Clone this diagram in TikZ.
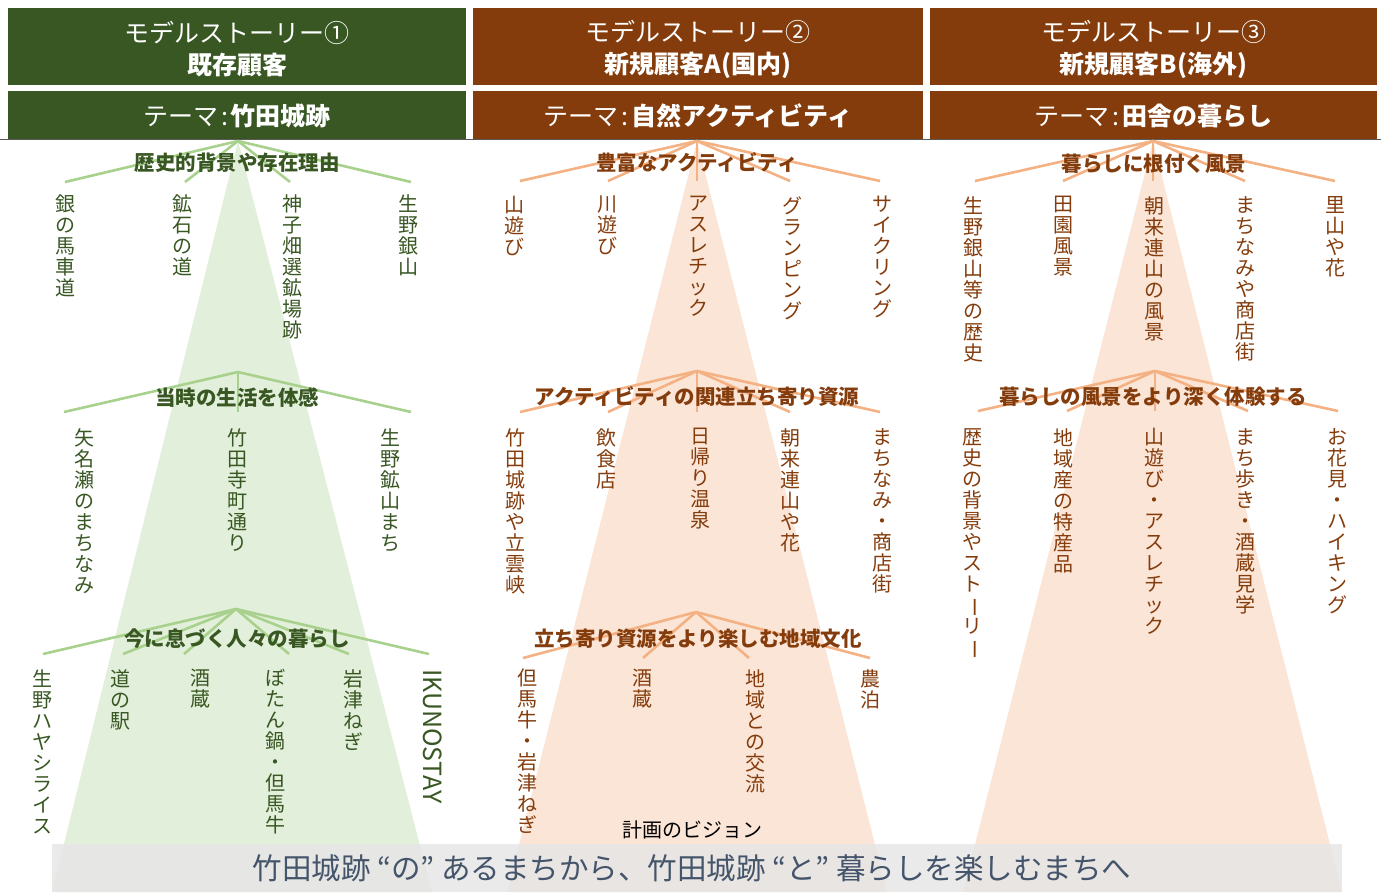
\documentclass[tikz,border=0pt]{standalone}
\usepackage{fontspec}
\setmainfont{Noto Sans CJK JP}
\usepackage{graphicx}
\definecolor{hdrG}{HTML}{385723}
\definecolor{hdrB}{HTML}{843C0C}
\definecolor{txtG}{HTML}{385723}
\definecolor{txtB}{HTML}{843C0C}
\definecolor{lnG}{HTML}{A9D18E}
\definecolor{lnB}{HTML}{F4B183}
\definecolor{fillG}{HTML}{E2EFDA}
\definecolor{fillB}{HTML}{FBE5D6}
\definecolor{bannerC}{HTML}{E7E6E6}
\definecolor{bannerT}{HTML}{44546A}
\newcommand\VB{\rotatebox[origin=c]{-90}{ー}}
\ExplSyntaxOn
\seq_new:N \l_vt_seq
\NewDocumentCommand\vtext{m}{
  \seq_clear:N \l_vt_seq
  \tl_map_inline:nn {#1} { \seq_put_right:Nn \l_vt_seq {##1} }
  \seq_use:Nn \l_vt_seq {\\}
}
\ExplSyntaxOff
\tikzset{
  hdrbox/.style={inner sep=0},
  hdrtext/.style={text=white, inner sep=0, align=center, font=\fontsize{25}{32}\selectfont},
  lineG/.style={draw=lnG, line width=2.6pt},
  lineB/.style={draw=lnB, line width=2.6pt},
  labG/.style={text=txtG, font=\bfseries\fontsize{20.5}{22}\selectfont, inner sep=0},
  labB/.style={text=txtB, font=\bfseries\fontsize{20.5}{22}\selectfont, inner sep=0},
  leafG/.style={text=txtG, font=\fontsize{20}{21}\selectfont, align=center, inner sep=0, anchor=north},
  leafB/.style={text=txtB, font=\fontsize{20}{21}\selectfont, align=center, inner sep=0, anchor=north},
}
\begin{document}
\begin{tikzpicture}[x=1pt,y=-1pt]
\useasboundingbox (0,0) rectangle (1384,892);
% fan shapes
\fill[fillG] (238,141) -- (52,892) -- (432,892) -- cycle;
\fill[fillB] (697,141) -- (507,892) -- (887,892) -- cycle;
\fill[fillB] (1153,141) -- (963,892) -- (1342,892) -- cycle;
% headers
\node[hdrbox, fill=hdrG, minimum width=458pt, minimum height=76.5pt] (h1) at (237,46.25) {};
\node[hdrbox, fill=hdrB, minimum width=450pt, minimum height=76.5pt] (h2) at (698,46.25) {};
\node[hdrbox, fill=hdrB, minimum width=447pt, minimum height=76.5pt] (h3) at (1153.5,46.25) {};
\node[hdrtext] (h1t) at (237,49.5) {モデルストーリー①\\\textbf{既存顧客}};
\node[hdrtext] (h2t) at (698,49.5) {モデルストーリー②\\\textbf{新規顧客A(国内)}};
\node[hdrtext] (h3t) at (1153.5,49.5) {モデルストーリー③\\\textbf{新規顧客B(海外)}};
\node[hdrbox, fill=hdrG, minimum width=458pt, minimum height=48pt] (t1) at (237,115) {};
\node[hdrbox, fill=hdrB, minimum width=450pt, minimum height=48pt] (t2) at (698,115) {};
\node[hdrbox, fill=hdrB, minimum width=447pt, minimum height=48pt] (t3) at (1153.5,115) {};
\node[hdrtext] (t1t) at (237,116) {テーマ\kern3pt:\kern3pt\textbf{竹田城跡}};
\node[hdrtext] (t2t) at (698,116) {テーマ\kern3pt:\kern3pt\textbf{自然アクティビティ}};
\node[hdrtext] (t3t) at (1153.5,116) {テーマ\kern3pt:\kern3pt\textbf{田舎の暮らし}};
\coordinate (rl) at (0,139.5);
\coordinate (rr) at (1381,139.5);
\draw[color=black!65, line width=1pt] (rl) -- (rr);
% ---------- column 1 ----------
\coordinate (g1) at (238,141);
\foreach \x [count=\i] in {65,185,290,411} {\coordinate (g1e\i) at (\x,182); \draw[lineG] (g1) -- (g1e\i);}
\coordinate (g2) at (238,372);
\foreach \x [count=\i] in {64,238,411} {\coordinate (g2e\i) at (\x,412); \draw[lineG] (g2) -- (g2e\i);}
\coordinate (g3) at (236,609);
\foreach \x [count=\i] in {43,123,184,289,349,429} {\coordinate (g3e\i) at (\x,654); \draw[lineG] (g3) -- (g3e\i);}
\node[labG] (lg1) at (237,163) {歴史的背景や存在理由};
\node[labG] (lg2) at (237,398) {当時の生活を体感};
\node[labG] (lg3) at (237,639) {今に息づく人々の暮らし};
\node[leafG] (a1) at (65,194) {\vtext{銀の馬車道}};
\node[leafG] (a2) at (182,194) {\vtext{鉱石の道}};
\node[leafG] (a3) at (292,194) {\vtext{神子畑選鉱場跡}};
\node[leafG] (a4) at (408,194) {\vtext{生野銀山}};
\node[leafG] (b1) at (84,428) {\vtext{矢名瀬のまちなみ}};
\node[leafG] (b2) at (237,428) {\vtext{竹田寺町通り}};
\node[leafG] (b3) at (390,428) {\vtext{生野鉱山まち}};
\node[leafG] (c1) at (42,669) {\vtext{生野ハヤシライス}};
\node[leafG] (c2) at (120,669) {\vtext{道の駅}};
\node[leafG] (c3) at (200,669) {\vtext{酒蔵}};
\node[leafG] (c4) at (275,669) {\vtext{ぼたん鍋・但馬牛}};
\node[leafG] (c5) at (353,669) {\vtext{岩津ねぎ}};
\node[leafG, font=\fontsize{25}{26}\selectfont, rotate=-90, anchor=west] (c6) at (433,669) {IKUNOSTAY};
% ---------- column 2 ----------
\coordinate (o1) at (697,141);
\foreach \x [count=\i] in {520,608,697,790,880} {\coordinate (o1e\i) at (\x,181); \draw[lineB] (o1) -- (o1e\i);}
\coordinate (o2) at (697,371);
\foreach \x [count=\i] in {520,608,697,790,880} {\coordinate (o2e\i) at (\x,412); \draw[lineB] (o2) -- (o2e\i);}
\coordinate (o3) at (696,612);
\foreach \x [count=\i] in {523,643,749,870} {\coordinate (o3e\i) at (\x,658); \draw[lineB] (o3) -- (o3e\i);}
\node[labB] (lo1) at (697,163) {豊富なアクティビティ};
\node[labB] (lo2) at (697,397) {アクティビティの関連立ち寄り資源};
\node[labB] (lo3) at (698,639) {立ち寄り資源をより楽しむ地域文化};
\node[leafB] (d1) at (514,196) {\vtext{山遊び}};
\node[leafB] (d2) at (607,196) {\vtext{川遊び}};
\node[leafB] (d3) at (698,196) {\vtext{アスレチック}};
\node[leafB] (d4) at (792,196) {\vtext{グランピング}};
\node[leafB] (d5) at (882,196) {\vtext{サイクリング}};
\node[leafB] (e1) at (515,428) {\vtext{竹田城跡や立雲峡}};
\node[leafB] (e2) at (606,428) {\vtext{飲食店}};
\node[leafB] (e3) at (700,428) {\vtext{日帰り温泉}};
\node[leafB] (e4) at (790,428) {\vtext{朝来連山や花}};
\node[leafB] (e5) at (882,428) {\vtext{まちなみ・商店街}};
\node[leafB] (f1) at (527,669) {\vtext{但馬牛・岩津ねぎ}};
\node[leafB] (f2) at (642,669) {\vtext{酒蔵}};
\node[leafB] (f3) at (755,669) {\vtext{地域との交流}};
\node[leafB] (f4) at (870,669) {\vtext{農泊}};
\node[font=\fontsize{20}{22}\selectfont, text=black, inner sep=0] (vis) at (692,830) {計画のビジョン};
% ---------- column 3 ----------
\coordinate (p1) at (1153,141);
\foreach \x [count=\i] in {975,1063,1153,1245,1335} {\coordinate (p1e\i) at (\x,181); \draw[lineB] (p1) -- (p1e\i);}
\coordinate (p2) at (1155,371);
\foreach \x [count=\i] in {978,1067,1155,1248,1338} {\coordinate (p2e\i) at (\x,411); \draw[lineB] (p2) -- (p2e\i);}
\node[labB] (lp1) at (1154,164) {暮らしに根付く風景};
\node[labB] (lp2) at (1153,397) {暮らしの風景をより深く体験する};
\node[leafB] (k1) at (973,196) {\vtext{生野銀山等の歴史}};
\node[leafB] (k2) at (1063,196) {\vtext{田園風景}};
\node[leafB] (k3) at (1154,196) {\vtext{朝来連山の風景}};
\node[leafB] (k4) at (1245,196) {\vtext{まちなみや商店街}};
\node[leafB] (k5) at (1335,196) {\vtext{里山や花}};
\node[leafB] (m1) at (972,428) {\vtext{歴史の背景やスト{\VB}リ{\VB}}};
\node[leafB] (m2) at (1063,428) {\vtext{地域産の特産品}};
\node[leafB] (m3) at (1154,428) {\vtext{山遊び・アスレチック}};
\node[leafB] (m4) at (1245,428) {\vtext{まち歩き・酒蔵見学}};
\node[leafB] (m5) at (1337,428) {\vtext{お花見・ハイキング}};
% ---------- banner ----------
\fill[bannerC, fill opacity=0.85] (52,844) rectangle (1342,892);
\node[text=bannerT, font=\fontsize{29.5}{31}\selectfont, inner sep=0] (ban) at (692,868) {竹田城跡 “の” あるまちから、竹田城跡 “と” 暮らしを楽しむまちへ};
\end{tikzpicture}
\end{document}
